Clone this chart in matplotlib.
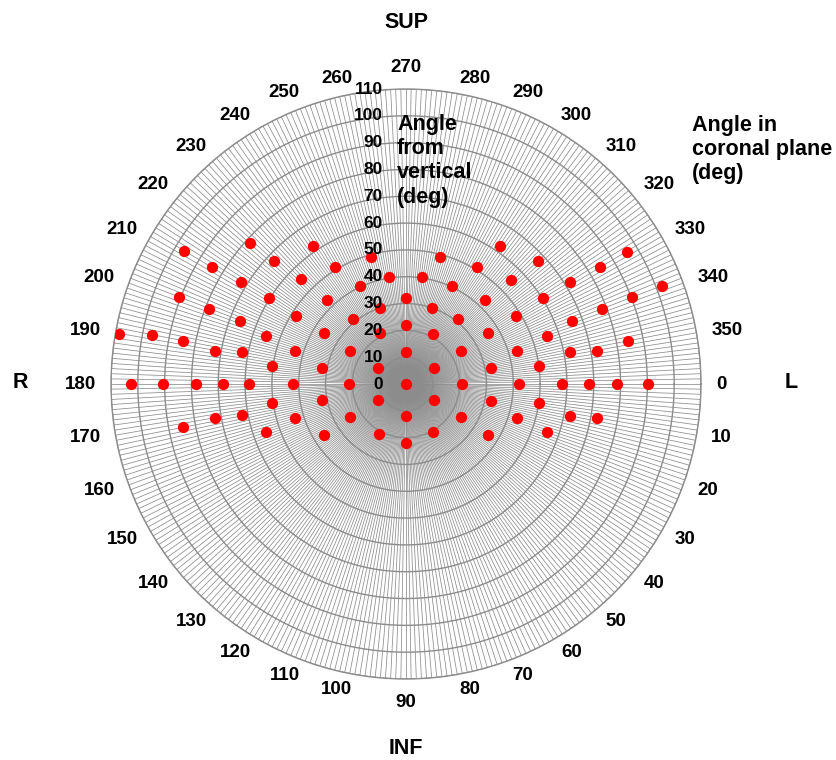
import numpy as np
import matplotlib
matplotlib.use('Agg')
import matplotlib.pyplot as plt
from matplotlib.transforms import offset_copy

plt.rcParams['font.family'] = ['Liberation Sans', 'DejaVu Sans']
plt.rcParams['font.weight'] = 'bold'

# Angle in coronal plane (deg) -- polar angle, clockwise from L (0)
coronal_angle_deg = [
    0,
    330.5, 29, 209.5, 150.5, 90, 270,
    0, 180, 90, 270, 61.1, 118.1, 298.1, 242.9, 328.9, 30.8, 210.7, 149.7,
    270, 31.8, 11.2, 349.5, 328.2, 313.1, 308.8, 288.9, 295.1, 278.7, 260.9,
    250.9, 231.0, 244.9, 211.9, 190.7, 169.3, 148.1, 226.9,
    0, 0, 0, 0, 0, 180, 180, 180, 180, 180, 180,
    285.0, 304.2, 301.1, 315.1, 328.2, 343.3, 16.9,
    317.0, 329.0, 329.1, 328.0, 339.0, 328.0, 339.0, 339.0, 339.1, 341.1,
    349.1, 349.0, 350.1, 352.2, 8.1, 10.9, 10.1, 18.9,
    235.9, 222.9, 238.8, 254.6, 225.0, 212.1, 211.8, 199.0, 196.7, 187.8,
    171.9, 163.1, 161.0, 222.0,
    210.9, 211.0, 211.8, 200.9, 200.9, 200.8, 189.9, 191.0, 190.9, 189.9,
    191.0, 170.0, 169.2, 169.0,
]

# Angle from vertical (deg) -- polar radius
vertical_angle_deg = [
    0,
    12.1, 12.1, 12.1, 12.1, 11.9, 11.9,
    21.0, 21.1, 22.1, 22.0, 20.6, 21.1, 21.1, 21.3, 24.1, 24.0, 24.3, 24.2,
    32.0, 36.1, 32.2, 32.1, 36.1, 43.1, 31.1, 29.9, 40.2, 40.2, 40.3,
    30.0, 31.2, 40.2, 36.0, 32.0, 32.0, 36.0, 43.1,
    42.3, 58.3, 68.3, 78.6, 90.3, 42.0, 58.4, 68.3, 78.3, 90.5, 102.5,
    48.9, 62.1, 51.1, 55.1, 48.1, 43.2, 43.3,
    67.1, 84.4, 96.1, 72.1, 102.1, 60.3, 90.2, 78.2, 66.3, 55.5,
    84.4, 62.3, 72.4, 50.1, 50.1, 62.3, 72.5, 55.5,
    62.0, 67.2, 51.1, 49.0, 55.4, 60.3, 48.3, 55.3, 43.2, 50.3,
    50.3, 43.3, 55.3, 78.3,
    96.4, 84.5, 72.4, 90.5, 78.5, 66.3, 108.6, 96.4, 84.7, 72.3,
    62.4, 72.3, 62.4, 84.7,
]

theta_ticks = list(range(0, 360, 10))
r_ticks = list(range(0, 111, 10))
spoke_angles = list(range(0, 360, 1))

W, H = 837, 760
fig = plt.figure(figsize=(W / 100, H / 100), dpi=100)
cx, cy, R = 406, 384, 295
ax = fig.add_axes([(cx - R) / W, (H - cy - R) / H, 2 * R / W, 2 * R / H],
                  projection='polar')
ax.set_theta_zero_location('E')
ax.set_theta_direction(-1)
ax.set_ylim(0, 110)
ax.set_xticks(np.deg2rad(theta_ticks))
ax.set_xticklabels([])
ax.set_yticks(r_ticks)
ax.set_yticklabels([])
ax.grid(False)
ax.tick_params(length=0)
ax.spines['polar'].set_color('#8c8c8c')
ax.spines['polar'].set_linewidth(1.0)

# spokes every degree
ax.vlines(np.deg2rad(spoke_angles), 0, 110, colors='#8c8c8c', lw=0.55, zorder=1)
# circles every 10 deg
tt = np.linspace(0, 2 * np.pi, 721)
for r in r_ticks[1:]:
    ax.plot(tt, np.full_like(tt, r), color='#8c8c8c', lw=1.0, zorder=2)

ax.scatter(np.deg2rad(coronal_angle_deg), vertical_angle_deg, s=66,
           c='#ff0000', linewidths=0, zorder=5)

# radial labels along the 270 (up) spoke
tr = offset_copy(ax.transData, fig=fig, x=-23, y=0, units='dots')
for r in r_ticks:
    ax.text(np.deg2rad(270), r, str(r), transform=tr, ha='right', va='center',
            fontsize=12.5, fontweight='bold', zorder=6, clip_on=False)

# angular labels
r_lab = 110 * 310 / R
for a in theta_ticks:
    c = np.cos(np.deg2rad(a))
    if a == 270:
        ha, va, rr = 'center', 'baseline', 110 * 312 / R
    elif a == 90:
        ha, va, rr = 'center', 'top', 110 * 310 / R
    else:
        ha, va, rr = ('left' if c > 0 else 'right'), 'center', r_lab
    ax.text(np.deg2rad(a), rr, str(a), ha=ha, va=va, fontsize=13.5,
            fontweight='bold', clip_on=False)

fs = 15.5
fig.text(cx / W, 1 - 22 / H, 'SUP', ha='center', va='center', fontsize=fs, fontweight='bold')
fig.text(cx / W, 1 - 749 / H, 'INF', ha='center', va='center', fontsize=fs, fontweight='bold')
fig.text(20 / W, 1 - 383 / H, 'R', ha='center', va='center', fontsize=fs, fontweight='bold')
fig.text(791 / W, 1 - 383 / H, 'L', ha='center', va='center', fontsize=fs, fontweight='bold')
fig.text(397 / W, 1 - 114 / H, 'Angle\nfrom\nvertical\n(deg)', ha='left', va='top',
         fontsize=fs, fontweight='bold', zorder=7)
fig.text(692 / W, 1 - 115 / H, 'Angle in\ncoronal plane\n(deg)', ha='left', va='top',
         fontsize=fs, fontweight='bold')

fig.savefig('out.png', dpi=100, facecolor='white')
